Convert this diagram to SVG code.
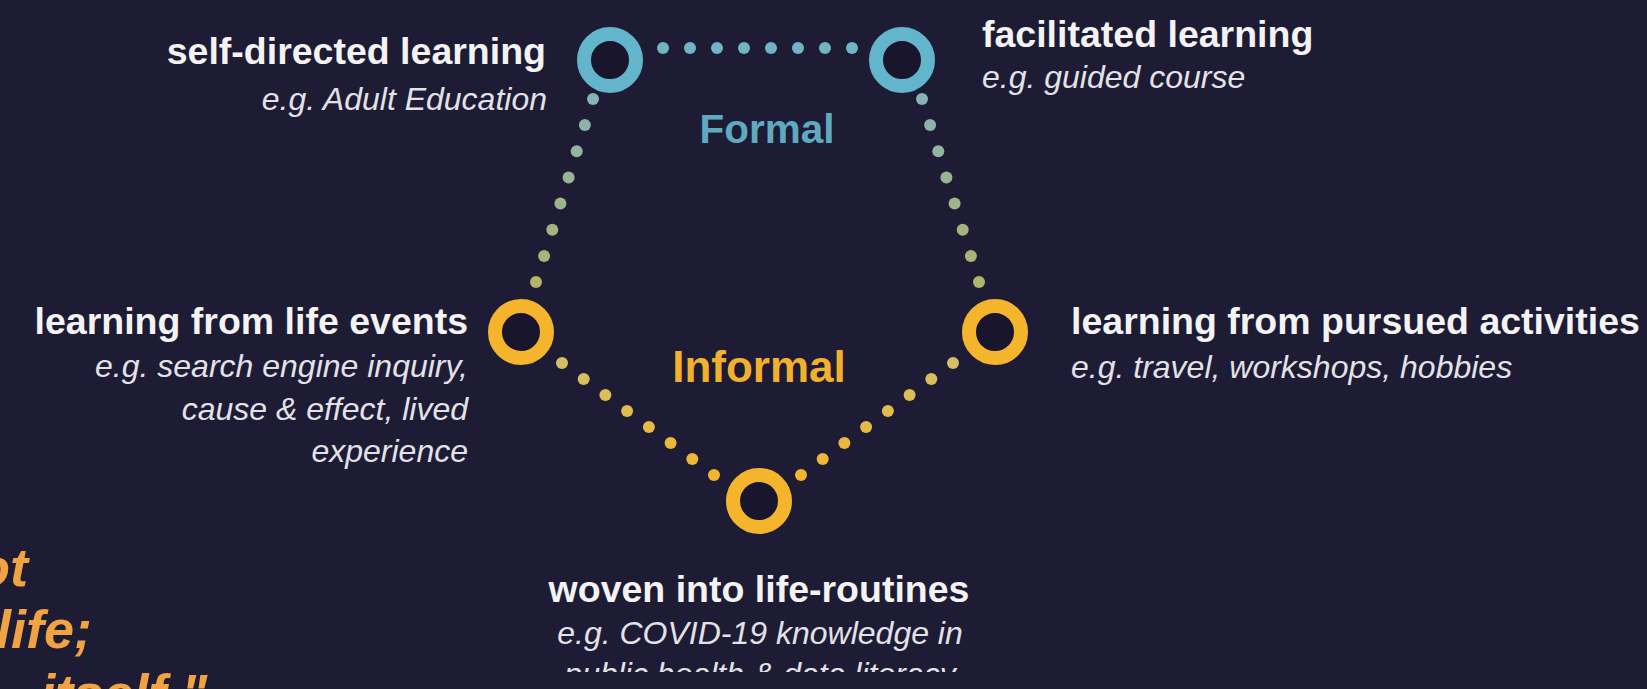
<svg xmlns="http://www.w3.org/2000/svg" width="1647" height="689" viewBox="0 0 1647 689">
<defs>
<clipPath id="cut"><rect x="0" y="0" width="1647" height="672"/></clipPath>
</defs>
<style>
.bg{fill:#1e1b35}
.ringB{fill:#18152d;stroke:#62b5cb;stroke-width:14}
.ringY{fill:#18152d;stroke:#f4b42c;stroke-width:14}
.t{font-family:"Liberation Sans",Arial,sans-serif;font-weight:bold;font-size:37.5px;fill:#f3f3f3}
.i{font-family:"Liberation Sans",Arial,sans-serif;font-style:italic;font-size:32px;fill:#e2e2e8}
.formal{font-family:"Liberation Sans",Arial,sans-serif;font-weight:bold;font-size:40.5px;fill:#5fa9c1}
.informal{font-family:"Liberation Sans",Arial,sans-serif;font-weight:bold;font-size:44px;fill:#f2b12c}
.q{font-family:"Liberation Sans",Arial,sans-serif;font-weight:bold;font-style:italic;font-size:54px;fill:#f0a342}
.e{text-anchor:end}
.m{text-anchor:middle}
</style>
<rect class="bg" x="0" y="0" width="1647" height="689"/>

<g id="connectors">
  <g fill="#72b4c2">
    <circle cx="663" cy="48" r="6"/><circle cx="690" cy="48" r="6"/><circle cx="717" cy="48" r="6"/><circle cx="744" cy="48" r="6"/>
    <circle cx="771" cy="48" r="6"/><circle cx="798" cy="48" r="6"/><circle cx="825" cy="48" r="6"/><circle cx="852" cy="48" r="6"/>
  </g>
  <g>
    <circle cx="593" cy="99" r="6" fill="#87b3b4"/><circle cx="584.9" cy="125.1" r="6" fill="#8db3a9"/>
    <circle cx="576.7" cy="151.3" r="6" fill="#93b49f"/><circle cx="568.6" cy="177.4" r="6" fill="#99b494"/>
    <circle cx="560.4" cy="203.6" r="6" fill="#9eb48a"/><circle cx="552.3" cy="229.7" r="6" fill="#a4b47f"/>
    <circle cx="544.1" cy="255.9" r="6" fill="#aab575"/><circle cx="536" cy="282" r="6" fill="#b0b56a"/>
  </g>
  <g>
    <circle cx="922" cy="99" r="6" fill="#87b3b4"/><circle cx="930.1" cy="125.1" r="6" fill="#8db3a9"/>
    <circle cx="938.3" cy="151.3" r="6" fill="#93b49f"/><circle cx="946.4" cy="177.4" r="6" fill="#99b494"/>
    <circle cx="954.6" cy="203.6" r="6" fill="#9eb48a"/><circle cx="962.7" cy="229.7" r="6" fill="#a4b47f"/>
    <circle cx="970.9" cy="255.9" r="6" fill="#aab575"/><circle cx="979" cy="282" r="6" fill="#b0b56a"/>
  </g>
  <g>
    <circle cx="562" cy="363" r="6" fill="#d4c064"/><circle cx="583.7" cy="379" r="6" fill="#d8be5c"/>
    <circle cx="605.4" cy="395" r="6" fill="#ddbd55"/><circle cx="627.1" cy="411" r="6" fill="#e1bb4d"/>
    <circle cx="648.9" cy="427" r="6" fill="#e6ba46"/><circle cx="670.6" cy="443" r="6" fill="#eab83e"/>
    <circle cx="692.3" cy="459" r="6" fill="#efb737"/><circle cx="714" cy="475" r="6" fill="#f3b52f"/>
  </g>
  <g>
    <circle cx="953" cy="363" r="6" fill="#d4c064"/><circle cx="931.3" cy="379" r="6" fill="#d8be5c"/>
    <circle cx="909.6" cy="395" r="6" fill="#ddbd55"/><circle cx="887.9" cy="411" r="6" fill="#e1bb4d"/>
    <circle cx="866.1" cy="427" r="6" fill="#e6ba46"/><circle cx="844.4" cy="443" r="6" fill="#eab83e"/>
    <circle cx="822.7" cy="459" r="6" fill="#efb737"/><circle cx="801" cy="475" r="6" fill="#f3b52f"/>
  </g>
</g>

<g id="node-self-directed">
  <circle class="ringB" cx="610" cy="60" r="26"/>
  <text class="t e" x="546" y="64">self-directed learning</text>
  <text class="i e" x="547" y="110">e.g. Adult Education</text>
</g>
<g id="node-facilitated">
  <circle class="ringB" cx="902" cy="60" r="26"/>
  <text class="t" x="982" y="47">facilitated learning</text>
  <text class="i" x="982" y="88">e.g. guided course</text>
</g>
<g id="node-life-events">
  <circle class="ringY" cx="521" cy="332" r="26"/>
  <text class="t e" x="468" y="334">learning from life events</text>
  <text class="i e" x="468" y="377">e.g. search engine inquiry,</text>
  <text class="i e" x="468" y="420">cause &amp; effect, lived</text>
  <text class="i e" x="468" y="462">experience</text>
</g>
<g id="node-pursued">
  <circle class="ringY" cx="995" cy="332" r="26"/>
  <text class="t" x="1071" y="334">learning from pursued activities</text>
  <text class="i" x="1071" y="378">e.g. travel, workshops, hobbies</text>
</g>
<g id="node-woven">
  <circle class="ringY" cx="759" cy="501" r="26"/>
  <text class="t m" x="759" y="602">woven into life-routines</text>
  <text class="i m" x="760" y="644">e.g. COVID-19 knowledge in</text>
  <text class="i m" x="760" y="685" clip-path="url(#cut)">public health &amp; data literacy</text>
</g>
<g id="label-formal">
  <text class="formal m" x="767" y="143">Formal</text>
</g>
<g id="label-informal">
  <text class="informal m" x="759" y="382">Informal</text>
</g>
<g id="quote">
  <text class="q e" x="28" y="586">ot</text>
  <text class="q e" x="92" y="648">life;</text>
  <text class="q e" x="207" y="712">itself."</text>
</g>
</svg>
